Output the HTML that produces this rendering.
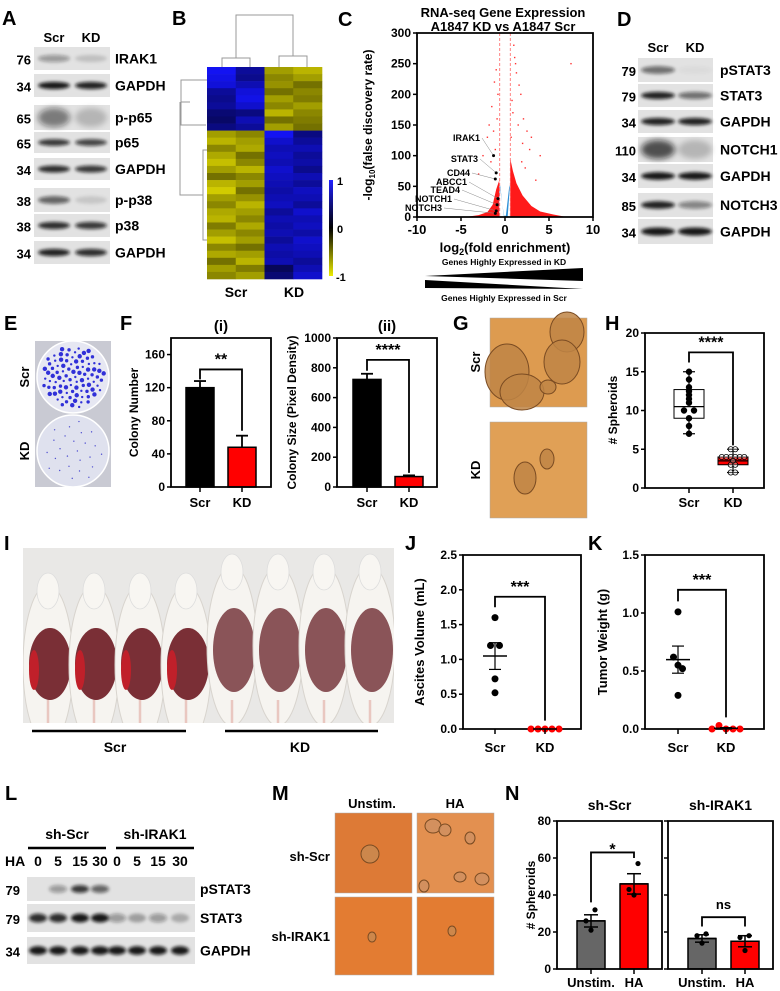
<!DOCTYPE html>
<html><head><meta charset="utf-8">
<style>
html,body{margin:0;padding:0;background:#fff}
svg{display:block;font-family:"Liberation Sans",Arial,sans-serif;font-weight:bold}
</style></head>
<body>
<svg id="fig" width="780" height="991" viewBox="0 0 780 991" xmlns="http://www.w3.org/2000/svg">
<defs>
<filter id="blur" x="-50%" y="-50%" width="200%" height="200%"><feGaussianBlur stdDeviation="1.5"/></filter>
<filter id="blur2" x="-50%" y="-50%" width="200%" height="200%"><feGaussianBlur stdDeviation="3"/></filter>
<linearGradient id="cbar" x1="0" y1="0" x2="0" y2="1"><stop offset="0" stop-color="#2020ff"/><stop offset="0.5" stop-color="#000"/><stop offset="1" stop-color="#ecec00"/></linearGradient>
<clipPath id="photoClip"><rect x="23" y="548" width="371" height="175"/></clipPath>
</defs>
<g font-size="20">
<text x="2" y="25">A</text>
<text x="172" y="25">B</text>
<text x="338" y="26">C</text>
<text x="617" y="26">D</text>
<text x="4" y="330">E</text>
<text x="120" y="330">F</text>
<text x="453" y="330">G</text>
<text x="605" y="330">H</text>
<text x="4" y="550">I</text>
<text x="405" y="550">J</text>
<text x="588" y="550">K</text>
<text x="5" y="800">L</text>
<text x="272" y="800">M</text>
<text x="505" y="800">N</text>
</g>
</svg>
<script>
// ---------- data ----------
const heatRows = [
 [0.95,0.6,-0.7,-0.8],[0.9,0.55,-0.6,-0.7],[0.85,0.7,-0.65,-0.5],[0.6,0.85,-0.5,-0.6],[0.55,0.9,-0.7,-0.55],
 [0.6,0.8,-0.6,-0.7],[0.45,0.5,-0.8,-0.6],[0.4,0.7,-0.5,-0.55],[0.5,0.6,-0.7,-0.5],
 [-0.7,-0.6,0.95,0.5],[-0.8,-0.7,0.8,0.6],[-0.6,-0.75,0.7,0.7],[-0.75,-0.5,0.75,0.6],[-0.85,-0.6,0.7,0.65],
 [-0.7,-0.8,0.8,0.55],[-0.5,-0.6,0.75,0.7],[-0.8,-0.7,0.7,0.6],[-0.9,-0.5,0.65,0.75],[-0.7,-0.65,0.7,0.7],
 [-0.6,-0.8,0.75,0.6],[-0.75,-0.7,0.6,0.8],[-0.8,-0.6,0.7,0.7],[-0.55,-0.75,0.65,0.75],[-0.7,-0.6,0.7,0.65],
 [-0.85,-0.7,0.6,0.8],[-0.6,-0.5,0.7,0.75],[-0.75,-0.7,0.65,0.7],[-0.5,-0.8,0.7,0.6],[-0.7,-0.55,0.35,0.7],[-0.6,-0.7,0.45,0.8]
];
const volX = [1,1.2,1.6,1.8,2.1,2.5,3,7.5,1.3,0.8,0.9,1.5,2,2.8,4,1.1,0.7,1.9,2.3,3.5,-1,-1.2,-1.5,-2,-1.8,-2.5,-1.1,-0.9,-1.3,-3,-0.8,-1.6];
const volY = [280,250,215,200,160,140,130,250,235,190,170,150,120,110,100,260,130,90,80,60,240,220,180,130,150,100,110,160,140,70,200,90];
const cloudLX = [-4.5,-3,-2,-1.4,-1,-0.65,-0.65];
const cloudLY = [0,3,8,20,45,60,0];
const cloudRX = [0.6,0.6,0.9,1.3,2,3,4,5.5,7];
const cloudRY = [0,95,75,55,35,18,9,4,0];
const blueX = [-0.8,-0.6,-0.1,0.3,0.55,0.5,0.1,-0.15,-0.55];
const blueY = [0,52,0,0,48,52,2,2,52];
const genes = ['IRAK1','STAT3','CD44','ABCC1','TEAD4','NOTCH1','NOTCH3'];
const geneX = [-1.3,-1.0,-1.1,-0.8,-0.9,-1.0,-1.1];
const geneY = [100,72,62,30,20,10,6];
const fCats = ['Scr','KD'];
const fiMeans = [120,48];
const fiErr = [8,14];
const fiTicks = [0,40,80,120,160];
const fiiMeans = [722,70];
const fiiErr = [38,8];
const fiiTicks = [0,200,400,600,800,1000];
const hScr = [15,14,13,12.5,12,11.5,11,10,10,9,8,7];
const hKD = [5,5,4,4,4,4,4,4,3.5,3,3,2,2];
const hScrBox = [7,9,10.5,12.7,15];
const hKDBox = [2,3,3.5,4,5];
const hTicks = [0,5,10,15,20];
const jScr = [1.6,1.2,1.2,0.72,0.52];
const jKD = [0,0,0,0,0];
const jTicks = [0,0.5,1.0,1.5,2.0,2.5];
const kScr = [1.01,0.62,0.55,0.52,0.29];
const kKD = [0,0.03,0,0,0];
const kTicks = [0,0.5,1.0,1.5];
const nCats = ['Unstim.','HA'];
const nScrMeans = [26,46];
const nScrErr = [3.3,5.5];
const nScrPts = [[32,26,21],[57,43,40]];
const nIrakMeans = [16.5,15];
const nIrakErr = [2,3];
const nIrakPts = [[19,18,14],[18,17,10]];
const nTicks = [0,20,40,60,80];

// ---------- helpers ----------
const NS='http://www.w3.org/2000/svg';
const svg=document.getElementById('fig');
function el(tag,attrs,parent){const e=document.createElementNS(NS,tag);for(const k in attrs)e.setAttribute(k,attrs[k]);(parent||svg).appendChild(e);return e;}
function nm(e,n){
 
 
 return e;}
function txt(x,y,s,size,anchor,parent,extra){const t=el('text',Object.assign({x:x,y:y,'font-size':size,'text-anchor':anchor||'middle'},extra||{}),parent);t.textContent=s;return t;}
function lin(d0,d1,r0,r1){return v=>r0+(v-d0)*(r1-r0)/(d1-d0);}
function line(x1,y1,x2,y2,p,w,c){return el('line',{x1:x1,y1:y1,x2:x2,y2:y2,stroke:c||'#000','stroke-width':w||1.5},p);}

// ---------- blots ----------
function blot(x0,x1,y0,y1,lanes,hw,ints,label,mw,lx,mx,name,diffuse){
 const g=el('g',{}); nm(g,name);
 nm(el('rect',{x:x0,y:y0,width:x1-x0,height:y1-y0,fill:'#e2e2e2'},g),name+'-membrane');
 lanes.forEach((cx,i)=>{ if(ints[i]>0.02){
   const b=el('ellipse',{cx:cx,cy:(y0+y1)/2,rx:hw,ry:diffuse?(y1-y0)*0.38:(y1-y0)*0.16,fill:'#111','fill-opacity':ints[i],filter:diffuse?'url(#blur2)':'url(#blur)'},g);
   nm(b,name+'-band');}});
 nm(txt(lx,(y0+y1)/2+5,label,14,'start',g),name+'-label');
 nm(txt(mx,(y0+y1)/2+6,mw,13,'end',g),name+'-mw');
}
nm(txt(54,42,'Scr',13),'a-scr-header'); nm(txt(91,42,'KD',13),'a-kd-header');
const aRows=[['IRAK1',47,70,[.35,.15],'76'],['GAPDH',74,97,[.95,.9],'34'],['p-p65',105,130,[.5,.2],'65',1],['p65',132,153,[.8,.75],'65'],
 ['GAPDH',158,180,[.85,.8],'34'],['p-p38',188,212,[.6,.12],'38'],['p38',214,237,[.85,.8],'38'],['GAPDH',241,264,[.9,.85],'34']];
aRows.forEach((r,i)=>blot(34,110,r[1],r[2],[54,91],16,r[3],r[0],r[4],115,31,'a-blot-'+r[0].toLowerCase()+'-'+i,r[5]));
nm(txt(658,52,'Scr',13),'d-scr-header'); nm(txt(695,52,'KD',13),'d-kd-header');
const dRows=[['pSTAT3',58,82,[.55,.03],'79'],['STAT3',84,107,[.9,.55],'79'],['GAPDH',110,133,[.9,.9],'34'],['NOTCH1',137,162,[.7,.2],'110',1],
 ['GAPDH',164,188,[.95,.95],'34'],['NOTCH3',193,217,[.9,.45],'85'],['GAPDH',219,244,[.95,.95],'34']];
dRows.forEach((r,i)=>blot(638,713,r[1],r[2],[658,695],17,r[3],r[0],r[4],720,636,'d-blot-'+r[0].toLowerCase()+'-'+i,r[5]));
const lLanes=[38,58,80,100,117,137,158,180];
blot(27,195,877,901,lLanes,9,[0,.35,.8,.6,0,0,0,0],'pSTAT3','79',200,20,'l-blot-pstat3');
blot(27,195,904,932,lLanes,9,[.85,.85,.95,.95,.35,.3,.35,.25],'STAT3','79',200,20,'l-blot-stat3');
blot(27,195,937,964,lLanes,9,[.95,.95,.95,.95,.95,.95,.95,.95],'GAPDH','34',200,20,'l-blot-gapdh');
nm(txt(67,839,'sh-Scr',14),'l-shscr-label'); nm(line(28,848,106,848,null,2.5),'l-shscr-line');
nm(txt(155,839,'sh-IRAK1',14),'l-shirak1-label'); nm(line(116,848,194,848,null,2.5),'l-shirak1-line');
nm(txt(5,866,'HA',14,'start'),'l-ha-label');
['0','5','15','30','0','5','15','30'].forEach((s,i)=>nm(txt(lLanes[i],866,s,14),'l-time-'+i));

// ---------- heatmap ----------
(function(){
 const g=el('g',{}); nm(g,'heatmap');
 const x0=207,cw=28.75,y0=67,rh=(279-67)/heatRows.length;
 function col(v){if(v>=0){return 'rgb('+Math.round(20*v)+','+Math.round(20*v)+','+Math.round(255*v)+')';}
  const a=-v;return 'rgb('+Math.round(232*a)+','+Math.round(225*a)+',0)';}
 heatRows.forEach((r,i)=>r.forEach((v,j)=>{nm(el('rect',{x:x0+j*cw,y:y0+i*rh,width:cw+0.3,height:rh+0.3,fill:col(v)},g),'heat-cell');}));
 const d=el('g',{stroke:'#999','stroke-width':1,fill:'none'},g); nm(d,'dendrogram');
 nm(el('path',{d:'M222 67V58H250V67 M279 67V56H307V67 M236 58V15H293V56'},d),'column-dendrogram');
 nm(el('path',{d:'M207 80H181V125H206 M181 102H190 M207 150H203V240H207 M203 195H180V102'},d),'row-dendrogram');
 nm(el('rect',{x:329,y:180,width:4,height:96,fill:'url(#cbar)'},g),'colorbar');
 nm(txt(337,185,'1',11,'start',g),'colorbar-max'); nm(txt(337,233,'0',11,'start',g),'colorbar-mid'); nm(txt(336,281,'-1',11,'start',g),'colorbar-min');
 nm(txt(236,297,'Scr',14,'middle',g),'heatmap-scr-label'); nm(txt(294,297,'KD',14,'middle',g),'heatmap-kd-label');
})();

// ---------- volcano ----------
(function(){
 const g=el('g',{}); nm(g,'volcano-plot');
 const X=lin(-10,10,417,593), Y=lin(0,300,217,33);
 nm(txt(503,17,'RNA-seq Gene Expression',13,'middle',g),'volcano-title-1');
 nm(txt(503,31,'A1847 KD vs A1847 Scr',13,'middle',g),'volcano-title-2');
 const pl=(xs,ys)=>xs.map((v,i)=>X(v)+','+Y(ys[i])).join(' ');
 nm(el('polygon',{points:pl(cloudLX,cloudLY),fill:'#ff1a1a'},g),'left-red-cloud');
 nm(el('polygon',{points:pl(cloudRX,cloudRY),fill:'#ff1a1a'},g),'right-red-cloud');
 nm(el('polygon',{points:pl(blueX,blueY),fill:'#2b8fd6'},g),'blue-nonsig-cloud');
 volX.forEach((v,i)=>nm(el('rect',{x:X(v)-0.7,y:Y(volY[i])-0.7,width:1.4,height:1.4,fill:'#f33'},g),'red-point'));
 nm(line(X(-0.6),33,X(-0.6),217,g,0.8,'#f66'),'fdr-threshold-left').setAttribute('stroke-dasharray','3,2');
 nm(line(X(0.6),33,X(0.6),217,g,0.8,'#f66'),'fdr-threshold-right').setAttribute('stroke-dasharray','3,2');
 const ly=[141,162,176,185,193,202,211];
 genes.forEach((s,i)=>{const tx=[480,478,470,467,460,452,442][i];
  nm(txt(tx,ly[i],s,9,'end',g),'gene-label-'+s.toLowerCase());
  nm(line(tx+2,ly[i]-3,X(geneX[i]),Y(geneY[i]),g,0.5,'#888'),'gene-leader');
  nm(el('circle',{cx:X(geneX[i]),cy:Y(geneY[i]),r:1.5,fill:'#000'},g),'gene-point');});
 nm(el('path',{d:'M417 33V217H593V33Z',fill:'none',stroke:'#000','stroke-width':1.8},g),'volcano-frame');
 [0,50,100,150,200,250,300].forEach(t=>{line(413,Y(t),417,Y(t),g,1.5);nm(txt(411,Y(t)+4,String(t),12,'end',g),'volcano-ytick');});
 [-10,-5,0,5,10].forEach(t=>{line(X(t),217,X(t),221,g,1.5);nm(txt(X(t),234,String(t),13,'middle',g),'volcano-xtick');});
 const yt=txt(0,0,'',12,'middle',g,{transform:'translate(372,125) rotate(-90)'}); nm(yt,'volcano-y-title');
 yt.innerHTML='-log<tspan font-size="8" dy="3">10</tspan><tspan dy="-3">(false discovery rate)</tspan>';
 const xt=txt(505,252,'',13,'middle',g); nm(xt,'volcano-x-title');
 xt.innerHTML='log<tspan font-size="9" dy="3">2</tspan><tspan dy="-3">(fold enrichment)</tspan>';
 nm(txt(504,265,'Genes Highly Expressed in KD',8.5,'middle',g),'kd-wedge-label');
 nm(el('polygon',{points:'425,276 583,268 583,281',fill:'#000'},g),'kd-wedge');
 nm(el('polygon',{points:'425,280 425,288 583,289',fill:'#000'},g),'scr-wedge');
 nm(txt(504,301,'Genes Highly Expressed in Scr',8.5,'middle',g),'scr-wedge-label');
})();

// ---------- E plates ----------
(function(){
 const g=el('g',{}); nm(g,'colony-plates');
 nm(el('rect',{x:35,y:341,width:76,height:146,fill:'#c9cad3'},g),'plate-background');
 nm(el('circle',{cx:73,cy:377,r:36,fill:'#e6e7f2',stroke:'#fff','stroke-width':1.5},g),'scr-dish');
 nm(el('circle',{cx:73,cy:451,r:36,fill:'#dfe1ee',stroke:'#fff','stroke-width':1.5},g),'kd-dish');
 for(let i=0;i<90;i++){const a=i*2.399,r=31*Math.sqrt((i+0.5)/90);
  nm(el('circle',{cx:73+r*Math.cos(a),cy:377+r*Math.sin(a),r:1.2+(i%3)*0.5,fill:'#3030d8'},g),'scr-colony');}
 for(let i=0;i<25;i++){const a=i*2.399,r=31*Math.sqrt((i+0.5)/25);
  nm(el('circle',{cx:73+r*Math.cos(a),cy:451+r*Math.sin(a),r:0.7,fill:'#5050d0'},g),'kd-colony');}
 nm(txt(0,0,'Scr',13,'middle',g,{transform:'translate(29,377) rotate(-90)'}),'e-scr-label');
 nm(txt(0,0,'KD',13,'middle',g,{transform:'translate(29,451) rotate(-90)'}),'e-kd-label');
})();

// ---------- generic frame ----------
function frame(g,x0,x1,yTop,y0,ticks,Y,fmt,labels,name){
 nm(el('path',{d:`M${x0} ${yTop}V${y0}H${x1}V${yTop}Z`,fill:'none',stroke:'#000','stroke-width':1.8},g),name+'-frame');
 ticks.forEach(t=>{line(x0-4,Y(t),x0,Y(t),g,1.5); if(labels) nm(txt(x0-6,Y(t)+4,fmt(t),12,'end',g),name+'-ytick');});
}
function bracket(g,xa,xb,yb,ya,ybb,label,ty,name){
 nm(el('path',{d:`M${xa} ${ya}V${yb}H${xb}V${ybb}`,fill:'none',stroke:'#000','stroke-width':1.8},g),name+'-bracket');
 nm(txt((xa+xb)/2,ty,label,label==='ns'?13:16,'middle',g),name+'-significance');
}

// ---------- F bar charts ----------
function fPanel(x0,x1,top,maxV,means,errs,ticks,cx,title,ytitle,ytx,name,br){
 const g=el('g',{}); nm(g,name);
 const Y=lin(0,maxV,487,top);
 nm(txt((x0+x1)/2,331,title,15,'middle',g),name+'-title');
 means.forEach((m,i)=>{
  nm(line(cx[i],Y(m),cx[i],Y(m+errs[i]),g,1.8),name+'-error');
  nm(line(cx[i]-6,Y(m+errs[i]),cx[i]+6,Y(m+errs[i]),g,1.8),name+'-error-cap');
  nm(el('rect',{x:cx[i]-14,y:Y(m),width:28,height:487-Y(m),fill:i?'#f00':'#000',stroke:'#000','stroke-width':1.5},g),name+'-bar-'+fCats[i].toLowerCase());
  line(cx[i],487,cx[i],492,g,1.5);
  nm(txt(cx[i],507,fCats[i],13,'middle',g),name+'-xlabel');});
 frame(g,x0,x1,top,487,ticks,Y,t=>String(t),true,name);
 nm(txt(0,0,ytitle,12,'middle',g,{transform:`translate(${ytx},${(top+487)/2}) rotate(-90)`}),name+'-y-title');
 bracket(g,cx[0],cx[1],Y(br[0]),Y(br[1]),Y(br[2]),br[3],Y(br[0])-5,name);
}
fPanel(171,271,338,180,fiMeans,fiErr,fiTicks,[200,242],'(i)','Colony Number',138,'f-i-chart',[142,130,68,'**']);
fPanel(337,437,338,1000,fiiMeans,fiiErr,fiiTicks,[367,409],'(ii)','Colony Size (Pixel Density)',296,'f-ii-chart',[853,780,95,'****']);

// ---------- G images ----------
function scope(x,y,w,h,fill,blobs,name){
 const g=el('g',{}); nm(g,name);
 nm(el('rect',{x:x,y:y,width:w,height:h,fill:fill,stroke:'#aaa','stroke-width':0.5},g),name+'-field');
 blobs.forEach(b=>nm(el('ellipse',{cx:b[0],cy:b[1],rx:b[2],ry:b[3],fill:b[4]||'#c08545',stroke:'#7a4b22','stroke-width':1,'fill-opacity':0.85},g),name+'-spheroid'));
}
scope(490,318,97,89,'#dd9b50',[[507,372,22,28],[567,332,17,20],[562,362,18,22],[522,392,22,18],[548,387,8,7]],'g-scr-image');
scope(490,422,97,96,'#e0a056',[[525,478,11,16],[547,459,7,10]],'g-kd-image');
nm(txt(0,0,'Scr',13,'middle',null,{transform:'translate(480,362) rotate(-90)'}),'g-scr-label');
nm(txt(0,0,'KD',13,'middle',null,{transform:'translate(480,470) rotate(-90)'}),'g-kd-label');

// ---------- H box plot ----------
(function(){
 const g=el('g',{}); nm(g,'h-chart');
 const Y=lin(0,20,488,333);
 const cx=[689,733];
 [[hScrBox,hScr,'#fff','#000',true],[hKDBox,hKD,'#f00','#fff',false]].forEach((d,i)=>{
  const b=d[0],c=cx[i];
  nm(line(c,Y(b[0]),c,Y(b[4]),g,1.2),'h-whisker');
  line(c-6,Y(b[0]),c+6,Y(b[0]),g,1.2); line(c-6,Y(b[4]),c+6,Y(b[4]),g,1.2);
  nm(el('rect',{x:c-15,y:Y(b[3]),width:30,height:Y(b[1])-Y(b[3]),fill:d[2],stroke:'#000','stroke-width':1},g),'h-box-'+fCats[i].toLowerCase());
  nm(line(c-15,Y(b[2]),c+15,Y(b[2]),g,1.2),'h-median');
  const seen={};
  d[1].forEach(v=>{const k=v;seen[k]=(seen[k]||0)+1;const n=d[1].filter(u=>u===v).length;const off=(seen[k]-1-(n-1)/2)*(d[4]?10:4.5);
   nm(el('circle',{cx:c+off,cy:Y(v),r:d[4]?2.8:2.6,fill:d[4]?'#000':'#fff','fill-opacity':d[4]?1:0.3,stroke:'#000','stroke-width':0.8},g),'h-point');});
  line(c,488,c,493,g,1.5);
  nm(txt(c,507,fCats[i],13,'middle',g),'h-xlabel');});
 frame(g,645,764,333,488,hTicks,Y,t=>String(t),true,'h');
 nm(txt(0,0,'# Spheroids',12,'middle',g,{transform:'translate(617,410) rotate(-90)'}),'h-y-title');
 bracket(g,cx[0],cx[1],Y(17.5),Y(16.2),Y(5.5),'****',Y(17.5)-5,'h');
})();

// ---------- I mice photo ----------
(function(){
 const g=el('g',{'clip-path':'url(#photoClip)'}); nm(g,'mice-photo');
 nm(el('rect',{x:23,y:548,width:371,height:175,fill:'#e9e8e6'},g),'photo-background');
 for(let i=0;i<8;i++){const cx=48+i*46, kd=i>=4, hy=kd?566:585;
  nm(el('ellipse',{cx:cx,cy:hy+80,rx:25,ry:80,fill:'#f6f4f0',stroke:'#d8d4ce','stroke-width':1},g),'mouse-body');
  nm(el('ellipse',{cx:cx,cy:hy+6,rx:11,ry:18,fill:'#f8f6f2',stroke:'#ddd','stroke-width':0.8},g),'mouse-head');
  nm(el('ellipse',{cx:cx+2,cy:kd?650:664,rx:21,ry:kd?42:36,fill:kd?'#8a5458':'#7a2f36'},g),'mouse-belly');
  if(!kd) nm(el('ellipse',{cx:cx-14,cy:670,rx:5,ry:20,fill:'#c0202a'},g),'blood-edge');
  nm(line(cx,700,cx,723,g,2.5,'#e9c7c0'),'mouse-tail');}
 nm(line(32,731,186,731,null,2.5),'i-scr-line'); nm(line(225,731,378,731,null,2.5),'i-kd-line');
 nm(txt(115,752,'Scr',14),'i-scr-label'); nm(txt(300,752,'KD',14),'i-kd-label');
})();

// ---------- J / K dot plots ----------
function dotPanel(x0,x1,maxV,ticks,scr,kd,cx,ytitle,ytx,name,br,fmt){
 const g=el('g',{}); nm(g,name);
 const Y=lin(0,maxV,729,555);
 frame(g,x0,x1,555,729,ticks,Y,fmt,true,name);
 [scr,kd].forEach((arr,i)=>{const seen=[];
  arr.forEach(v=>{const n=seen.filter(u=>Math.abs(u-v)<0.08).length;seen.push(v);
   const tot=arr.filter(u=>Math.abs(u-v)<0.08).length;const off=(n-(tot-1)/2)*(i?7:9);
   nm(el('circle',{cx:cx[i]+off,cy:Y(v),r:3.5,fill:i?'#f00':'#000'},g),name+'-point-'+fCats[i].toLowerCase());});
  const m=arr.reduce((a,b)=>a+b,0)/arr.length;
  const sd=Math.sqrt(arr.reduce((a,b)=>a+(b-m)*(b-m),0)/(arr.length-1)), se=sd/Math.sqrt(arr.length);
  nm(line(cx[i]-12,Y(m),cx[i]+12,Y(m),g,1.5),name+'-mean');
  nm(line(cx[i],Y(m-se),cx[i],Y(m+se),g,1.2),name+'-sem');
  line(cx[i]-6,Y(m-se),cx[i]+6,Y(m-se),g,1.2); line(cx[i]-6,Y(m+se),cx[i]+6,Y(m+se),g,1.2);
  line(cx[i],729,cx[i],734,g,1.5);
  nm(txt(cx[i],752,fCats[i],13,'middle',g),name+'-xlabel');});
 nm(txt(0,0,ytitle,13,'middle',g,{transform:`translate(${ytx},642) rotate(-90)`}),name+'-y-title');
 bracket(g,cx[0],cx[1],Y(br[0]),Y(br[1]),Y(br[2]),'***',Y(br[0])-5,name);
}
dotPanel(463,581,2.5,jTicks,jScr,jKD,[495,545],'Ascites Volume (mL)',424,'j-chart',[1.9,1.75,0.12],t=>t.toFixed(1));
dotPanel(645,764,1.5,kTicks,kScr,kKD,[678,726],'Tumor Weight (g)',607,'k-chart',[1.2,1.1,0.1],t=>t.toFixed(1));

// ---------- M images ----------
nm(txt(372,808,'Unstim.',13),'m-unstim-header'); nm(txt(455,808,'HA',13),'m-ha-header');
nm(txt(330,861,'sh-Scr',13,'end'),'m-shscr-label'); nm(txt(330,941,'sh-IRAK1',13,'end'),'m-shirak1-label');
scope(335,813,77,80,'#dd7a36',[[370,854,9,9,'#c98a50']],'m-shscr-unstim');
scope(417,813,77,80,'#e39050',[[433,826,8,7,'#d09060'],[445,830,6,6,'#d09060'],[470,838,5,6,'#d09060'],[460,877,6,5,'#d09060'],[482,879,7,6,'#d09060'],[424,886,5,6,'#d09060']],'m-shscr-ha');
scope(335,897,77,78,'#e37c32',[[372,937,4,5,'#c98a50']],'m-shirak1-unstim');
scope(417,897,77,78,'#e37c32',[[452,931,4,5,'#c98a50']],'m-shirak1-ha');

// ---------- N bar charts ----------
function nPanel(x0,x1,means,errs,pts,cx,title,labels,name,br){
 const g=el('g',{}); nm(g,name);
 const Y=lin(0,80,969,821);
 nm(txt((x0+x1)/2,810,title,14,'middle',g),name+'-title');
 means.forEach((m,i)=>{
  nm(el('rect',{x:cx[i]-14,y:Y(m),width:28,height:969-Y(m),fill:i?'#f00':'#666',stroke:'#000','stroke-width':1.5},g),name+'-bar-'+(i?'ha':'unstim'));
  nm(line(cx[i],Y(m-errs[i]),cx[i],Y(m+errs[i]),g,1.5),name+'-error');
  line(cx[i]-7,Y(m+errs[i]),cx[i]+7,Y(m+errs[i]),g,1.5); line(cx[i]-7,Y(m-errs[i]),cx[i]+7,Y(m-errs[i]),g,1.5);
  line(cx[i]-14,Y(m),cx[i]+14,Y(m),g,1.5);
  pts[i].forEach((v,j)=>nm(el('circle',{cx:cx[i]+(j===1?-5:(j===2?0:4)),cy:Y(v),r:2.6,fill:'#000'},g),name+'-point'));
  line(cx[i],969,cx[i],974,g,1.5);
  nm(txt(cx[i],987,nCats[i],13,'middle',g),name+'-xlabel');});
 frame(g,x0,x1,821,969,nTicks,Y,t=>String(t),labels,name);
 bracket(g,cx[0],cx[1],Y(br[0]),Y(br[1]),Y(br[2]),br[3],Y(br[0])-(br[3]==='ns'?8:-2),name);
}
nPanel(557,662,nScrMeans,nScrErr,nScrPts,[591,634],'sh-Scr',true,'n-shscr-chart',[63,36,60,'*']);
nPanel(668,773,nIrakMeans,nIrakErr,nIrakPts,[702,745],'sh-IRAK1',false,'n-shirak1-chart',[28,23,23,'ns']);
nm(txt(0,0,'# Spheroids',12,'middle',null,{transform:'translate(535,895) rotate(-90)'}),'n-y-title');
</script>
</body></html>
